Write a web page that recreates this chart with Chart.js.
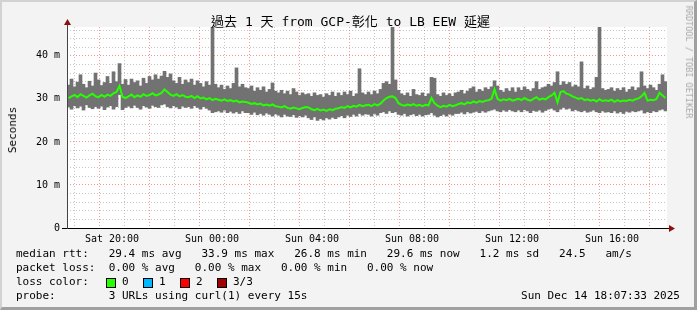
<!DOCTYPE html>
<html>
<head>
<meta charset="utf-8">
<script src="https://cdn.jsdelivr.net/npm/chart.js@4"></script>
<style>
  html,body{margin:0;padding:0;background:#f3f3f3;}
  #wrap{position:relative;width:697px;height:310px;box-sizing:border-box;background:#f3f3f3;
        border-top:2px solid #d2d2d2;border-left:2px solid #d2d2d2;border-right:3px solid #a0a0a0;border-bottom:3px solid #a0a0a0;overflow:hidden;}
  canvas{position:absolute;left:-2px;top:-2px;}
  .t{position:absolute;font-family:"DejaVu Sans Mono",monospace;white-space:pre;color:#000;}
  .lg{font-size:11px;line-height:14px;}
  .box{position:absolute;width:8px;height:8px;border:1px solid #000;}
</style>
</head>
<body>
<div id="wrap">
  <canvas id="c" width="697" height="310"></canvas>
  <div class="t" id="title" style="left:0;width:697px;top:12px;text-align:center;font-size:13px;line-height:16px;font-family:'DejaVu Sans Mono','Noto Sans CJK TC',monospace;"></div>
  <div class="t" style="font-size:11px;line-height:12px;transform:translate(-50%,-50%) rotate(-90deg);left:11px;top:128px;">Seconds</div>
  <div class="t" style="font-size:8.5px;line-height:10px;color:#a8a8a8;left:687px;top:60px;transform:translate(-50%,-50%) rotate(90deg);">RRDTOOL / TOBI OETIKER</div>
  <div class="t lg" id="l1" style="left:14px;top:245px;"></div>
  <div class="t lg" id="l2" style="left:14px;top:259px;"></div>
  <div class="t lg" style="left:14px;top:273px;">loss color:</div>
  <div id="l3"></div>
  <div class="t lg" id="l4" style="left:14px;top:287px;"></div>
  <div class="t lg" id="date" style="right:14px;top:287px;"></div>
</div>
<script>
// ---- data ----
const titleText = "過去 1 天 from GCP-彰化 to LB EEW 延遲";
const startHour = 18.2;      // Sat 18:12 (hours since Sat 00:00)
const endHour = 42.2;        // Sun 18:12
const stepHours = 0.12;      // sample spacing (7.2 min)
const xTickHours = [20, 24, 28, 32, 36, 40];
const xTickLabels = ["Sat 20:00", "Sun 00:00", "Sun 04:00", "Sun 08:00", "Sun 12:00", "Sun 16:00"];
const yTickValues = [0, 10, 20, 30, 40];
const yTickLabels = ["0", "10 m", "20 m", "30 m", "40 m"];

const smokeHigh = [
 33.2,34.6,32.8,33.9,35.6,33.4,32.6,34.1,33.0,36.0,
 34.4,33.1,33.8,35.2,33.6,36.3,34.0,38.2,33.4,34.5,
 33.2,34.6,33.8,34.2,33.0,34.8,33.6,35.2,34.4,35.6,
 34.6,35.3,36.4,35.0,35.8,34.2,33.6,35.0,33.4,34.4,
 33.8,34.6,33.2,34.2,33.6,32.8,34.0,33.2,48.0,33.4,
 32.6,33.2,32.2,33.0,32.4,33.6,37.2,32.8,33.4,32.6,
 32.4,33.0,31.8,32.6,32.0,32.8,31.6,32.2,33.7,31.8,
 31.4,32.0,31.2,31.8,31.0,32.4,31.6,30.8,31.4,31.0,
 31.2,30.6,31.4,30.8,31.0,30.4,31.2,30.8,31.6,30.6,
 31.4,30.8,31.6,31.0,31.8,30.6,31.2,37.0,31.4,31.0,
 31.6,31.0,31.8,31.2,32.2,33.6,34.0,33.4,48.0,34.4,
 32.0,31.2,30.8,31.4,30.6,32.2,31.0,30.8,31.4,30.6,
 31.2,35.0,34.8,31.0,30.6,31.4,30.8,31.2,30.6,31.4,
 31.6,32.0,31.2,31.8,32.4,32.8,31.6,32.2,31.8,32.6,
 32.2,32.8,34.2,33.0,32.0,31.6,32.4,31.8,32.6,31.6,
 32.6,32.0,32.8,32.2,31.8,32.4,34.0,32.2,32.6,32.8,
 33.4,33.0,33.8,36.3,33.2,34.0,33.4,33.8,32.8,33.2,
 32.8,38.6,32.4,33.0,32.2,32.6,35.0,48.0,32.4,32.0,
 32.2,32.6,31.8,32.4,32.0,32.6,31.6,32.2,32.8,32.0,
 32.6,36.3,33.0,32.4,33.2,32.6,32.0,33.4,35.6,34.0
];
const smokeLow = [
 28.1,27.6,28.4,27.9,28.3,27.4,28.6,28.0,27.7,28.2,
 27.8,28.3,27.5,28.1,28.4,27.6,28.2,31.0,27.5,28.0,
 28.3,27.9,28.5,28.0,27.6,28.4,28.1,27.8,28.5,28.2,
 28.0,28.6,28.8,28.2,27.9,28.4,28.1,27.7,28.3,28.0,
 28.2,27.8,28.4,28.0,27.6,28.2,27.8,27.4,26.8,27.0,
 27.2,26.9,27.4,26.8,27.1,26.7,27.0,26.6,27.2,26.8,
 26.8,26.4,26.9,26.3,26.6,26.2,26.7,26.4,26.0,26.5,
 26.2,25.8,26.4,26.0,25.9,26.3,25.7,26.1,25.8,26.2,
 25.6,25.2,25.8,25.0,25.4,25.1,25.6,25.3,25.7,25.4,
 25.8,26.1,25.6,26.2,25.9,26.4,26.0,26.6,26.2,26.5,
 26.4,26.0,26.6,26.2,26.8,27.0,26.6,27.2,26.8,27.0,
 26.4,26.2,26.6,26.0,26.3,26.5,26.1,26.4,26.0,26.3,
 26.4,26.8,26.2,25.8,26.1,26.4,26.0,26.5,26.2,26.6,
 26.6,26.9,26.5,27.0,26.7,26.9,27.1,26.8,27.2,26.9,
 27.2,27.4,27.6,27.2,27.0,27.4,27.1,27.5,27.2,27.0,
 27.4,27.0,27.5,27.2,26.8,27.3,27.1,27.4,26.9,27.3,
 27.6,27.8,27.4,27.0,27.6,28.0,27.6,27.8,27.2,27.5,
 27.2,27.0,27.3,26.9,27.1,27.4,27.0,26.8,27.2,26.9,
 27.0,26.8,27.2,26.7,27.0,26.6,27.1,26.9,27.2,27.0,
 27.2,27.4,26.7,27.0,26.8,27.2,27.0,27.4,27.6,27.2
];
const medianRtt = [
 30.2,30.6,30.9,30.4,31.1,30.7,30.3,30.8,31.2,30.6,
 30.4,30.9,30.5,31.0,30.7,31.3,31.6,33.0,30.5,30.2,
 30.6,31.0,30.4,30.8,30.5,31.1,30.7,30.9,31.3,30.8,
 31.0,31.4,32.2,31.6,31.0,30.7,31.1,30.6,30.9,30.5,
 30.4,30.7,30.2,30.6,30.1,30.3,29.9,30.2,29.7,30.0,
 29.8,29.6,29.9,29.5,29.7,29.4,29.6,29.2,29.4,29.3,
 29.1,28.8,29.0,28.7,28.9,28.5,28.7,28.4,28.7,28.3,
 28.2,28.0,28.3,27.9,27.7,28.0,27.8,27.6,27.9,28.1,
 28.0,27.6,27.4,27.7,27.3,27.5,27.2,27.6,27.4,27.7,
 27.8,28.1,27.9,28.3,28.0,28.4,28.2,28.6,28.3,28.5,
 28.6,28.3,28.8,28.5,28.9,29.6,30.2,30.5,30.6,30.2,
 29.0,28.6,28.4,28.7,28.5,28.8,28.4,28.6,28.3,28.6,
 28.5,30.2,29.0,28.4,28.1,28.4,28.2,28.6,28.3,28.5,
 28.8,29.0,28.7,29.2,29.0,29.4,29.1,29.5,29.3,29.6,
 29.7,30.0,32.2,30.0,29.6,29.9,29.7,30.0,29.6,29.8,
 30.0,29.7,30.2,29.8,29.6,30.0,30.4,29.8,30.1,29.9,
 30.4,30.8,31.4,29.2,31.6,31.8,31.2,31.0,30.6,30.3,
 30.0,30.2,29.7,29.9,29.6,29.8,29.4,29.9,29.5,29.7,
 29.5,29.8,29.3,29.7,29.4,29.6,29.5,29.8,29.6,29.9,
 30.1,30.6,31.4,29.6,29.8,29.7,30.0,31.4,30.8,30.2
];

const legendLine1 = "median rtt:   29.4 ms avg   33.9 ms max   26.8 ms min   29.6 ms now   1.2 ms sd   24.5   am/s";
const legendLine2 = "packet loss:  0.00 % avg   0.00 % max   0.00 % min   0.00 % now";
const lossColors = [["0", "#26ff00"], ["1", "#00b8ff"], ["2", "#ff0000"], ["3/3", "#a10000"]];
const probeLine = "probe:        3 URLs using curl(1) every 15s";
const dateText = "Sun Dec 14 18:07:33 2025";

// ---- text ----
document.getElementById('title').textContent = titleText;
document.getElementById('l1').textContent = legendLine1;
document.getElementById('l2').textContent = legendLine2;
document.getElementById('l4').textContent = probeLine;
document.getElementById('date').textContent = dateText;
const l3 = document.getElementById('l3');
lossColors.forEach((lc, k) => {
  const b = document.createElement('div');
  b.className = 'box';
  b.style.left = (104 + 37 * k) + 'px';
  b.style.top = '276px';
  b.style.background = lc[1];
  l3.appendChild(b);
  const s = document.createElement('div');
  s.className = 't lg';
  s.style.left = (120 + 37 * k) + 'px';
  s.style.top = '273px';
  s.textContent = lc[0];
  l3.appendChild(s);
});

// ---- chart ----
const times = smokeHigh.map((_, i) => startHour + stepHours * (i + 0.5));
const smokeData = times.map((t, i) => ({x: t, y: [smokeLow[i], smokeHigh[i]]}));
const medData = times.map((t, i) => ({x: t, y: medianRtt[i]}));

const RED = 'rgba(255,60,60,0.55)';
const GREY = 'rgba(150,150,150,0.55)';

const decor = {
  id: 'decor',
  beforeDraw(chart) {
    const {ctx, chartArea: a} = chart;
    ctx.save();
    ctx.fillStyle = '#ffffff';
    ctx.fillRect(a.left, a.top, a.right - a.left, a.bottom - a.top);
    ctx.restore();
  },
  afterDraw(chart) {
    const {ctx, chartArea: a} = chart;
    ctx.save();
    ctx.strokeStyle = '#000';
    ctx.lineWidth = 1;
    ctx.beginPath();
    ctx.moveTo(a.left - 5, Math.round(a.bottom) + 0.5);
    ctx.lineTo(a.right + 3, Math.round(a.bottom) + 0.5);
    ctx.stroke();
    ctx.strokeStyle = '#444';
    ctx.beginPath();
    ctx.moveTo(Math.round(a.left) + 0.5, a.bottom + 1);
    ctx.lineTo(Math.round(a.left) + 0.5, a.top - 3);
    ctx.stroke();
    ctx.fillStyle = '#8b1010';
    const bx = a.right + 2, by = Math.round(a.bottom) + 0.5;
    ctx.beginPath(); ctx.moveTo(bx, by - 3.5); ctx.lineTo(bx + 6, by); ctx.lineTo(bx, by + 3.5); ctx.closePath(); ctx.fill();
    const tx = Math.round(a.left) + 0.5, ty = a.top - 2;
    ctx.beginPath(); ctx.moveTo(tx - 3.5, ty); ctx.lineTo(tx, ty - 6); ctx.lineTo(tx + 3.5, ty); ctx.closePath(); ctx.fill();
    ctx.restore();
  }
};

const tickFont = {family: 'DejaVu Sans Mono', size: 10};

new Chart(document.getElementById('c'), {
  data: {
    datasets: [
      {type: 'line', data: medData, borderColor: '#26ff00', borderWidth: 2, pointRadius: 0, tension: 0, order: 0},
      {type: 'bar', data: smokeData, backgroundColor: '#727272', borderWidth: 0, barPercentage: 1, categoryPercentage: 1, order: 1}
    ]
  },
  options: {
    responsive: false,
    animation: false,
    devicePixelRatio: 1,
    layout: {padding: {top: 27, right: 30, bottom: 62, left: 0}},
    plugins: {legend: {display: false}, tooltip: {enabled: false}},
    scales: {
      x: {
        type: 'linear', min: startHour, max: endHour, offset: false,
        afterBuildTicks: s => { const arr = []; for (let h = 19; h <= 42; h++) arr.push({value: h}); s.ticks = arr; },
        afterFit: s => { s.height = 20; },
        ticks: {
          autoSkip: false, maxRotation: 0, padding: 5, color: '#000', font: tickFont,
          callback: v => { const k = xTickHours.indexOf(v); return k >= 0 ? xTickLabels[k] : ''; }
        },
        grid: {drawTicks: false, color: c => (c.tick && c.tick.value % 2 === 0) ? RED : GREY, lineWidth: 1},
        border: {display: false, dash: [1, 2]}
      },
      y: {
        type: 'linear', min: 0, max: 46.7,
        afterBuildTicks: s => { const arr = []; for (let v = 0; v <= 46; v += 2) arr.push({value: v}); s.ticks = arr; },
        afterFit: s => { s.width = 67; },
        ticks: {
          autoSkip: false, padding: 7, color: '#000', font: tickFont,
          callback: v => { const k = yTickValues.indexOf(v); return k >= 0 ? yTickLabels[k] : ''; }
        },
        grid: {drawTicks: false, color: c => (c.tick && c.tick.value % 10 === 0) ? RED : GREY, lineWidth: 1},
        border: {display: false, dash: [1, 2]}
      }
    }
  },
  plugins: [decor]
});
</script>
</body>
</html>
